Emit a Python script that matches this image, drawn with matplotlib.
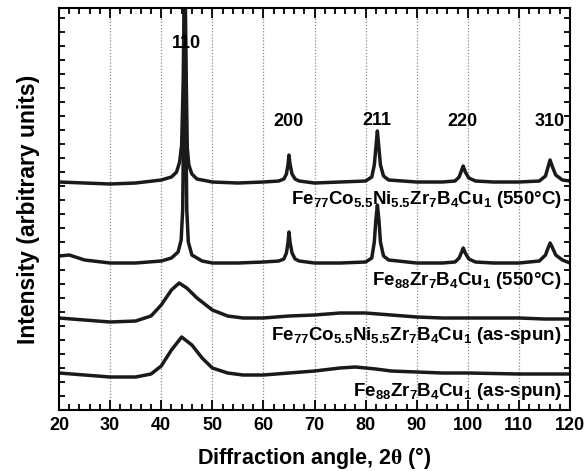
import matplotlib
matplotlib.use("Agg")
import matplotlib.pyplot as plt
from matplotlib.ticker import MultipleLocator, NullFormatter

plt.rcParams['font.family'] = ['Liberation Sans', 'DejaVu Sans']
plt.rcParams['font.weight'] = 'bold'
plt.rcParams['mathtext.fontset'] = 'custom'
plt.rcParams['mathtext.rm'] = 'Liberation Serif'
plt.rcParams['mathtext.bf'] = 'Liberation Sans:bold'
plt.rcParams['mathtext.default'] = 'bf'

# patrones de difracción (intensidad en unidades arbitrarias)
x_co_550 = [20, 25, 30, 35, 40, 42, 43, 43.6, 44.0, 44.3, 44.6, 44.9, 45.1, 45.4, 46, 47, 50, 55, 60, 63,
            64, 64.5, 64.8, 65, 65.2, 65.6, 66.2, 67, 70, 75, 80, 81.2, 81.7, 82.0, 82.3, 82.6,
            82.9, 83.5, 84.5, 90, 95, 97.5, 98.3, 98.8, 99.1, 99.5, 100.2, 101.5, 105, 110,
            114, 115.2, 115.7, 116.1, 116.5, 117.2, 118.5, 120]
y_co_550 = [228, 227, 226, 227, 230, 233, 238, 248, 265, 330, 460, 330, 262, 245, 236, 231, 228, 227, 228, 229,
            231, 236, 245, 255, 246, 236, 231, 229, 227, 228, 229, 233, 245, 262, 279, 262,
            245, 234, 230, 228, 228, 229, 233, 240, 244, 238, 232, 229, 228, 228,
            229, 234, 243, 250, 244, 235, 230, 229]

x_fe_550 = [20, 22, 25, 30, 35, 40, 42, 43.3, 43.9, 44.2, 44.4, 44.6, 44.8, 45.0, 45.3, 46, 48, 50, 55, 60, 63,
            64, 64.5, 64.8, 65, 65.2, 65.6, 66.2, 67, 70, 75, 80, 81.2, 81.7, 82.0, 82.3, 82.6,
            82.9, 83.5, 84.5, 90, 95, 97.5, 98.3, 98.8, 99.1, 99.5, 100.2, 101.5, 105, 110,
            114, 115.2, 115.7, 116.1, 116.5, 117.2, 118.5, 120]
y_fe_550 = [154, 155, 150, 147, 147, 149, 152, 158, 170, 200, 300, 460, 300, 200, 168, 155, 149, 147, 147, 148, 149,
            151, 157, 167, 178, 168, 157, 151, 149, 147, 147, 148, 152, 168, 190, 205, 190,
            168, 154, 150, 147, 147, 148, 152, 158, 162, 157, 151, 148, 147, 147,
            149, 155, 162, 167, 163, 155, 150, 147]

x_co_spun = [20, 25, 30, 35, 38, 40, 42, 43.5, 45, 47, 50, 53, 56, 60, 65, 70, 75, 80, 85, 90,
             95, 100, 105, 110, 115, 120]
y_co_spun = [92, 90, 88, 89, 94, 105, 120, 127, 122, 112, 100, 94, 92, 92, 94, 95, 97, 97, 95, 93,
             92, 92, 92, 92, 91, 91]

x_fe_spun = [20, 25, 30, 35, 38, 40, 42, 44, 46, 48, 50, 53, 56, 60, 65, 70, 75, 78, 82, 85, 90,
             95, 100, 110, 120]
y_fe_spun = [37, 35, 33, 33, 36, 44, 60, 73, 65, 52, 42, 37, 35, 35, 37, 39, 42, 43, 41, 39, 38,
             37, 37, 36, 36]

picos = ['110', '200', '211', '220', '310']
picos_x = [45.0, 65.0, 82.2, 98.9, 116.1]
picos_y = [367, 289, 290, 289, 289]

etiquetas = [r'Fe$_{77}$Co$_{5.5}$Ni$_{5.5}$Zr$_{7}$B$_{4}$Cu$_{1}$ (550°C)',
             r'Fe$_{88}$Zr$_{7}$B$_{4}$Cu$_{1}$ (550°C)',
             r'Fe$_{77}$Co$_{5.5}$Ni$_{5.5}$Zr$_{7}$B$_{4}$Cu$_{1}$ (as-spun)',
             r'Fe$_{88}$Zr$_{7}$B$_{4}$Cu$_{1}$ (as-spun)']
etiquetas_y = [211, 130, 75, 19]

fig = plt.figure(figsize=(5.85, 4.71), dpi=100)
ax = fig.add_axes([0.1009, 0.1295, 0.8735, 0.8535])

# rejilla punteada vertical
for xv in range(30, 120, 10):
    ax.axvline(xv, color='#888888', linestyle=(0, (1, 1.5)), linewidth=0.9, zorder=0)

color = '#1a1a1a'
ax.plot(x_co_550, y_co_550, color=color, linewidth=2.5)
ax.plot(x_fe_550, y_fe_550, color=color, linewidth=2.5)
ax.plot(x_co_spun, y_co_spun, color=color, linewidth=2.5)
ax.plot(x_fe_spun, y_fe_spun, color=color, linewidth=2.5)

for i in range(len(picos)):
    ax.text(picos_x[i], picos_y[i], picos[i], ha='center', va='center', fontsize=13,
            fontweight='bold')
for i in range(len(etiquetas)):
    ax.text(118.4, etiquetas_y[i], etiquetas[i], ha='right', va='center', fontsize=13.5,
            fontweight='bold')

ax.set_xlim(20, 120)
ax.set_ylim(0, 402)
ax.xaxis.set_major_locator(MultipleLocator(10))
ax.xaxis.set_minor_locator(MultipleLocator(2))
# en el eje y solo marcas cortas sin números
ax.yaxis.set_major_locator(MultipleLocator(14))
ax.yaxis.set_major_formatter(NullFormatter())
ax.tick_params(which='both', direction='in', top=True, right=True, width=1.3)
ax.tick_params(axis='x', which='major', length=7, labelsize=13, pad=5)
ax.tick_params(axis='x', which='minor', length=4.5)
ax.tick_params(axis='y', which='major', length=4.5)
for lab in ax.get_xticklabels():
    lab.set_fontweight('bold')
for s in ax.spines.values():
    s.set_linewidth(1.5)

ax.set_xlabel(r'Diffraction angle, 2$\mathrm{\theta}$ (°)', fontsize=15.5, fontweight='bold', labelpad=8)
ax.set_ylabel('Intensity (arbitrary units)', fontsize=16.5, fontweight='bold', labelpad=10)

fig.savefig('out.png', dpi=100)
